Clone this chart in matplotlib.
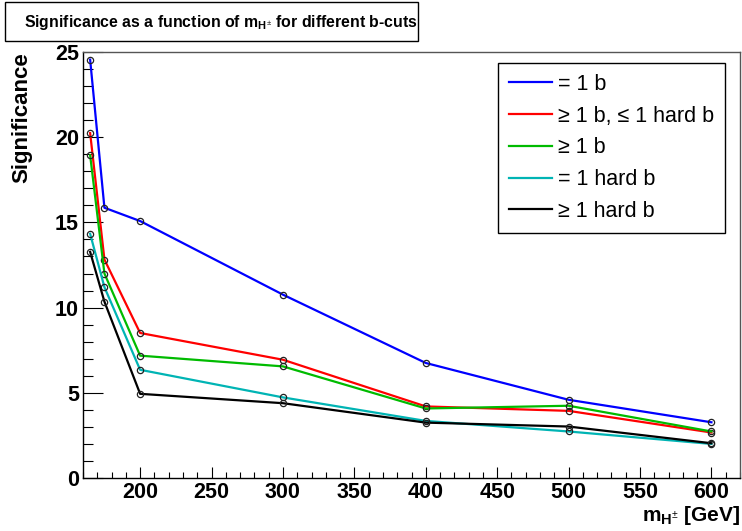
import matplotlib
matplotlib.use('Agg')
import matplotlib.pyplot as plt
from matplotlib.lines import Line2D
from matplotlib.patches import Rectangle
from matplotlib.ticker import MultipleLocator

plt.rcParams['font.family'] = ['Liberation Sans', 'DejaVu Sans']
plt.rcParams['mathtext.fontset'] = 'custom'
plt.rcParams['mathtext.rm'] = 'Liberation Sans'
plt.rcParams['mathtext.bf'] = 'Liberation Sans:bold'
plt.rcParams['mathtext.it'] = 'Liberation Sans:italic'

# charged Higgs masses [GeV]
masses = [165, 175, 200, 300, 400, 500, 600]

# significance for each b-tag selection
sig_eq1b = [24.55, 15.86, 15.08, 10.76, 6.75, 4.59, 3.27]
sig_ge1b_le1hard = [20.24, 12.82, 8.51, 6.94, 4.20, 3.94, 2.67]
sig_ge1b = [18.94, 12.00, 7.18, 6.55, 4.08, 4.24, 2.73]
sig_eq1hard = [14.33, 11.20, 6.35, 4.73, 3.35, 2.73, 2.00]
sig_ge1hard = [13.27, 10.35, 4.94, 4.39, 3.25, 3.02, 2.04]

series = [sig_eq1b, sig_ge1b_le1hard, sig_ge1b, sig_eq1hard, sig_ge1hard]
labels = ['= 1 b', '\u2265 1 b, \u2264 1 hard b', '\u2265 1 b', '= 1 hard b', '\u2265 1 hard b']
colors = ['#0000ff', '#ff0000', '#00bb00', '#00b4b4', '#000000']

W, H = 742, 531
fig = plt.figure(figsize=(W / 100, H / 100), dpi=100)
ax = fig.add_axes([83 / W, 1 - 478 / H, (740 - 83) / W, (478 - 52) / H])

for ys, c in zip(series, colors):
    ax.plot(masses, ys, color=c, lw=1.6, marker='o', ms=4.5, mfc='none',
            mec='#222222', mew=0.9)

ax.set_xlim(160, 620)
ax.set_ylim(0, 25)
ax.xaxis.set_major_locator(MultipleLocator(50))
ax.xaxis.set_minor_locator(MultipleLocator(10))
ax.yaxis.set_major_locator(MultipleLocator(5))
ax.yaxis.set_minor_locator(MultipleLocator(1))
ax.set_xticks([200, 250, 300, 350, 400, 450, 500, 550, 600])

ax.tick_params(axis='y', which='major', direction='in', length=14.5, width=0.8,
               labelsize=15.5, pad=3)
ax.tick_params(axis='y', which='minor', direction='in', length=7.2, width=0.8)
ax.tick_params(axis='x', which='major', direction='in', length=8, width=0.8,
               labelsize=15.5, pad=3)
ax.tick_params(axis='x', which='minor', direction='in', length=4, width=0.8)
for lab in ax.get_xticklabels() + ax.get_yticklabels():
    lab.set_fontweight('bold')

for s in ['left', 'bottom']:
    ax.spines[s].set_linewidth(1.0)
    ax.spines[s].set_color('black')
for s in ['top', 'right']:
    ax.spines[s].set_linewidth(1.0)
    ax.spines[s].set_color('#555555')

# legend (lines only)
handles = [Line2D([], [], color=c, lw=1.6) for c in colors]
leg = fig.legend(handles, labels, loc='upper right',
                 bbox_to_anchor=(725 / W, 1 - 63 / H), bbox_transform=fig.transFigure,
                 borderaxespad=0, fancybox=False, edgecolor='black', framealpha=1,
                 fontsize=15.5, handlelength=2.0, handletextpad=0.3,
                 labelspacing=0.5, borderpad=0.5)
leg.get_frame().set_linewidth(1.0)

# title box
fig.patches.append(Rectangle((5 / W, 1 - 41 / H), (418 - 5) / W, (41 - 2) / H,
                             transform=fig.transFigure, fill=False,
                             edgecolor='black', lw=1.0))
fig.text(221 / W, 1 - 22 / H,
         r'Significance as a function of $\mathbf{m}_{\mathbf{H}^{\pm}}$ for different b-cuts',
         ha='center', va='center', fontsize=11.4, fontweight='bold')

fig.text(22 / W, 1 - 52 / H, 'Significance', rotation=90, ha='center', va='top',
         fontsize=16, fontweight='bold')
fig.text(740 / W, 1 - 521 / H, r'$\mathbf{m}_{\mathbf{H}^{\pm}}$ [GeV]',
         ha='right', va='baseline', fontsize=15, fontweight='bold')

fig.savefig('out.png', dpi=100)
